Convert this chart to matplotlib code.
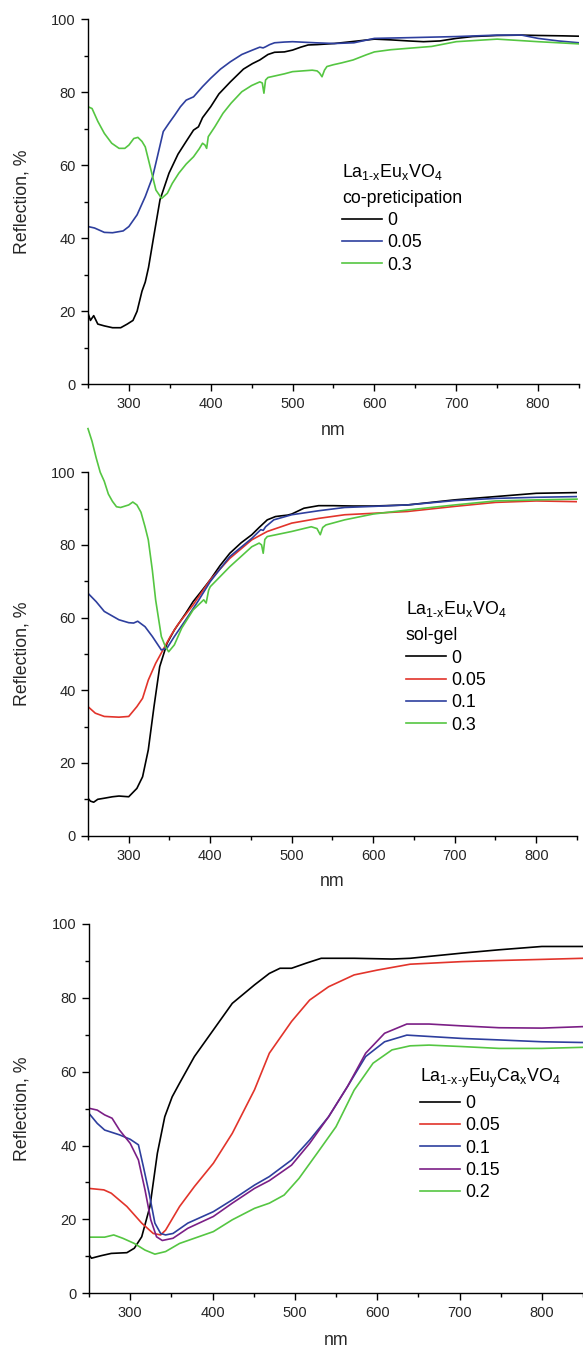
import matplotlib
matplotlib.use('Agg')
import matplotlib.pyplot as plt
from matplotlib.ticker import MultipleLocator

plt.rcParams['font.family'] = ['Liberation Sans', 'DejaVu Sans']
plt.rcParams['mathtext.fontset'] = 'custom'
plt.rcParams['mathtext.rm'] = 'Liberation Sans'
plt.rcParams['mathtext.it'] = 'Liberation Sans'

# La(1-x)Eu(x)VO4, co-precipitation
cp_nm_0 = [250, 253, 257, 262, 270, 280, 290, 298, 305, 310, 316, 320, 324, 330, 338, 349, 360, 370, 379, 385,
           390, 400, 410, 424, 440, 451, 460, 470, 478, 490, 500, 510, 519, 530, 551, 580, 600, 620, 642, 660,
           680, 700, 720, 750, 780, 800, 830, 850]
cp_r_0 = [19.5, 17.5, 18.8, 16.5, 16, 15.5, 15.5, 16.5, 17.5, 20, 25.5, 28, 32, 40, 50.5, 57.8, 63, 66.5, 69.6, 70.5,
          73, 76, 79.5, 82.8, 86.3, 87.8, 88.8, 90.3, 90.9, 91, 91.5, 92.3, 92.9, 93, 93.3, 94, 94.5, 94.3, 94, 93.8,
          94, 94.7, 95.2, 95.5, 95.6, 95.5, 95.4, 95.3]
cp_nm_005 = [250, 258, 264, 270, 280, 293, 300, 310, 320, 329, 335, 342, 349, 356, 363, 370, 379, 390, 400, 412,
             424, 438, 451, 460, 464, 467, 472, 478, 490, 500, 528, 551, 575, 600, 642, 700, 750, 780, 800, 825, 850]
cp_r_005 = [43.2, 42.8, 42.2, 41.6, 41.5, 42, 43.2, 46.4, 51.4, 56.8, 62.5, 69.2, 71.5, 73.7, 76, 77.8, 78.7, 81.5,
            83.8, 86.3, 88.3, 90.3, 91.5, 92.3, 92.1, 92.4, 93, 93.5, 93.7, 93.8, 93.5, 93.3, 93.5, 94.7, 94.9, 95.2,
            95.6, 95.6, 94.7, 94, 93.5]
cp_nm_03 = [250, 255, 262, 270, 279, 288, 295, 300, 306, 311, 316, 320, 324, 333, 340, 347, 353, 361, 370, 379,
            386, 390, 393, 395, 397, 405, 415, 425, 438, 450, 460, 463, 465, 467, 470, 480, 490, 500, 512, 524,
            530, 533, 536, 539, 542, 550, 560, 574, 590, 600, 620, 642, 670, 700, 750, 800, 850]
cp_r_03 = [76, 75.5, 72, 68.7, 66, 64.6, 64.6, 65.5, 67.3, 67.6, 66.5, 65, 61.4, 53.2, 50.9, 52.3, 55, 57.8, 60.3,
           62.3, 64.5, 66, 65.5, 64.6, 67.8, 70.5, 74.2, 77, 80.1, 81.8, 82.8, 82.5, 79.7, 83.3, 84, 84.5, 85, 85.6,
           85.8, 86, 85.8, 85.2, 84.2, 86, 87, 87.5, 88, 88.8, 90.2, 91, 91.6, 92, 92.5, 93.8, 94.5, 93.8, 93.2]

# La(1-x)Eu(x)VO4, sol-gel
sg_nm_0 = [250, 253, 257, 262, 270, 280, 288, 300, 310, 317, 324, 331, 338, 347, 356, 370, 379, 390, 400, 412,
           424, 438, 451, 460, 470, 480, 487, 495, 500, 515, 533, 551, 575, 600, 642, 700, 750, 800, 850]
sg_r_0 = [10.3, 9.5, 9.2, 10, 10.3, 10.7, 10.9, 10.7, 13, 16.2, 23.6, 35.5, 46.5, 52.9, 56.6, 61.2, 64.4, 67.5, 70.4,
          74.3, 77.7, 80.6, 82.8, 84.8, 86.9, 87.8, 88, 88.2, 88.5, 90.1, 90.8, 90.8, 90.7, 90.7, 91, 92.4, 93.3,
          94.2, 94.4]
sg_nm_005 = [250, 259, 270, 288, 300, 310, 317, 324, 333, 342, 351, 360, 379, 400, 424, 451, 470, 500, 533, 565,
             600, 642, 700, 750, 800, 850]
sg_r_005 = [35.5, 33.7, 32.8, 32.6, 32.8, 35.5, 37.8, 42.8, 47.4, 51.1, 54.8, 58, 63.5, 70.4, 76.3, 81.4, 83.7, 86,
            87.3, 88.3, 88.7, 89.2, 90.6, 91.7, 92.1, 91.9]
sg_nm_01 = [250, 260, 270, 288, 300, 306, 311, 320, 329, 340, 347, 356, 370, 385, 400, 424, 451, 462, 465, 468,
            478, 500, 533, 565, 600, 642, 700, 750, 800, 850]
sg_r_01 = [66.7, 64.4, 61.7, 59.4, 58.6, 58.5, 59, 57.5, 54.8, 51.1, 51.6, 54.8, 59.4, 64.5, 69.9, 76.8, 81.8, 84.2,
           84, 85, 86.9, 88.3, 89.4, 90.3, 90.6, 91, 92.2, 92.8, 93.1, 93.3]
sg_nm_03 = [250, 255, 260, 265, 270, 275, 280, 285, 290, 300, 305, 310, 315, 320, 324, 329, 333, 340, 345, 349,
            356, 365, 379, 392, 395, 398, 400, 424, 451, 460, 463, 465, 467, 470, 500, 524, 531, 535, 538, 542,
            565, 600, 642, 700, 750, 800, 850]
sg_r_03 = [112, 108.5, 104, 100, 97.5, 94, 92, 90.5, 90.3, 91, 91.8, 91, 89, 85, 81.4, 73, 64.9, 54.8, 52, 50.6,
           52.5, 57.1, 62.1, 64.9, 64, 67.5, 68.5, 74, 79.5, 80.5, 80, 77.7, 81.5, 82.3, 83.7, 85, 84.5, 82.8, 84.8,
           85.5, 86.9, 88.5, 89.6, 91, 92.1, 92.4, 92.6]

# La(1-x-y)Eu(y)Ca(x)VO4
ca_nm_0 = [250, 253, 258, 265, 277, 296, 305, 314, 324, 333, 342, 351, 360, 378, 401, 424, 451, 469, 482, 496,
           514, 532, 572, 618, 640, 703, 748, 800, 850]
ca_r_0 = [10.4, 9.5, 9.8, 10.2, 10.8, 11, 12.2, 15.3, 23.5, 37.9, 47.8, 53.2, 56.9, 64.1, 71.3, 78.5, 83.5, 86.6,
          88, 88, 89.4, 90.7, 90.7, 90.5, 90.7, 92.1, 93, 93.9, 93.9]
ca_nm_005 = [250, 268, 277, 296, 314, 328, 337, 343, 360, 378, 401, 424, 451, 469, 496, 518, 541, 572, 600, 640,
             703, 748, 800, 850]
ca_r_005 = [28.4, 28, 27.1, 23.5, 19, 16.2, 15.8, 17.1, 23.5, 28.9, 35.2, 43.3, 55.1, 65, 73.6, 79.4, 83, 86.2,
            87.5, 89.1, 89.8, 90.1, 90.4, 90.7]
ca_nm_01 = [250, 260, 269, 287, 300, 310, 316, 323, 330, 337, 343, 352, 370, 401, 424, 451, 469, 496, 518, 541,
            564, 586, 609, 636, 703, 748, 800, 850]
ca_r_01 = [48.7, 46, 44.2, 42.9, 41.7, 40.2, 34.3, 27.1, 19, 16.2, 15.8, 16.2, 19, 22.1, 25.3, 29.3, 31.6, 36.1,
           41.5, 47.8, 56, 64.1, 68.1, 69.9, 69, 68.6, 68.1, 67.9]
ca_nm_015 = [250, 260, 269, 278, 287, 300, 310, 318, 325, 332, 339, 352, 370, 401, 424, 451, 469, 496, 518, 541,
             564, 586, 609, 636, 663, 703, 748, 800, 850]
ca_r_015 = [50.1, 49.6, 48.3, 47.4, 44.2, 40.6, 36.1, 28, 19.9, 15.3, 14.3, 14.9, 17.6, 20.8, 24.4, 28.4, 30.5,
            34.7, 40.6, 47.8, 56, 65, 70.4, 72.9, 72.9, 72.4, 71.9, 71.8, 72.2]
ca_nm_02 = [250, 269, 280, 291, 305, 318, 330, 343, 360, 401, 424, 451, 469, 487, 505, 527, 550, 572, 595, 618,
            640, 663, 703, 748, 800, 850]
ca_r_02 = [15.2, 15.2, 15.8, 14.9, 13.5, 11.7, 10.6, 11.3, 13.5, 16.7, 19.9, 23, 24.4, 26.6, 31.1, 37.9, 45.1, 55,
           62.3, 65.9, 67, 67.2, 66.8, 66.3, 66.3, 66.6]

BLACK = '#000000'
BLUE = '#2e3f9e'
RED = '#e2342b'
GREEN = '#55c642'
PURPLE = '#7b1f86'

formula_x = r'La$_{1\text{-}x}$Eu$_{x}$VO$_{4}$'
formula_ca = r'La$_{1\text{-}x\text{-}y}$Eu$_{y}$Ca$_{x}$VO$_{4}$'

fig = plt.figure(figsize=(5.83, 13.5), dpi=100)
ax1 = fig.add_axes([0.1509, 0.7153, 0.8422, 0.2706])
ax2 = fig.add_axes([0.1509, 0.3810, 0.8388, 0.2692])
ax3 = fig.add_axes([0.1527, 0.0420, 0.8473, 0.2736])


def style(ax):
    ax.set_xlim(250, 850)
    ax.set_ylim(0, 100)
    ax.xaxis.set_major_locator(MultipleLocator(100))
    ax.xaxis.set_minor_locator(MultipleLocator(50))
    ax.yaxis.set_major_locator(MultipleLocator(20))
    ax.yaxis.set_minor_locator(MultipleLocator(10))
    for s in ['top', 'right']:
        ax.spines[s].set_visible(False)
    for s in ['left', 'bottom']:
        ax.spines[s].set_linewidth(1.0)
    ax.tick_params(which='major', direction='out', length=5.2, width=1.0, labelsize=10.5,
                   labelcolor='#262626')
    ax.tick_params(axis='x', which='major', pad=4.2)
    ax.tick_params(axis='y', which='major', pad=3.6)
    ax.tick_params(which='minor', direction='out', length=2.8, width=1.0)
    ax.set_xlabel('nm', fontsize=12.8, color='#262626')
    ax.set_ylabel('Reflection, %', fontsize=12.8, color='#262626')
    ax.yaxis.set_label_coords(-0.118, 0.5)
    ax.xaxis.set_label_coords(0.5, -0.104)


lw = 1.2
ax1.plot(cp_nm_0, cp_r_0, color=BLACK, lw=lw, label='0')
ax1.plot(cp_nm_005, cp_r_005, color=BLUE, lw=lw, label='0.05')
ax1.plot(cp_nm_03, cp_r_03, color=GREEN, lw=lw, label='0.3')
style(ax1)

ax2.plot(sg_nm_0, sg_r_0, color=BLACK, lw=lw, label='0')
ax2.plot(sg_nm_005, sg_r_005, color=RED, lw=lw, label='0.05')
ax2.plot(sg_nm_01, sg_r_01, color=BLUE, lw=lw, label='0.1')
ax2.plot(sg_nm_03, sg_r_03, color=GREEN, lw=lw, label='0.3', clip_on=False)
style(ax2)

ax3.plot(ca_nm_0, ca_r_0, color=BLACK, lw=lw, label='0')
ax3.plot(ca_nm_005, ca_r_005, color=RED, lw=lw, label='0.05')
ax3.plot(ca_nm_01, ca_r_01, color=BLUE, lw=lw, label='0.1')
ax3.plot(ca_nm_015, ca_r_015, color=PURPLE, lw=lw, label='0.15')
ax3.plot(ca_nm_02, ca_r_02, color=GREEN, lw=lw, label='0.2')
style(ax3)

legend_kw = dict(loc='upper left', frameon=False, fontsize=12.8, title_fontsize=12.8,
                 handlelength=2.25, handletextpad=0.3, labelspacing=0.3, borderpad=0,
                 borderaxespad=0, alignment='left')
leg1 = ax1.legend(title=formula_x + '\nco-preticipation', bbox_to_anchor=(0.517, 0.609), **legend_kw)
leg2 = ax2.legend(title=formula_x + '\nsol-gel', bbox_to_anchor=(0.650, 0.650), **legend_kw)
leg3 = ax3.legend(title=formula_ca, bbox_to_anchor=(0.670, 0.614), **legend_kw)
for leg in (leg1, leg2):
    leg.get_title().set_linespacing(1.6)

fig.savefig('out.png', dpi=100)
